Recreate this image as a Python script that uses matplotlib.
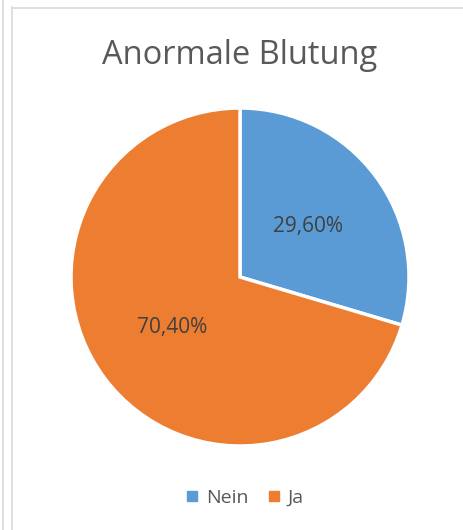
import matplotlib
matplotlib.use("Agg")
import matplotlib.pyplot as plt
from matplotlib.lines import Line2D

title = "Anormale Blutung"
categories = ["Nein", "Ja"]
values = [29.60, 70.40]
colors = ["#5B9BD5", "#ED7D31"]

plt.rcParams['font.family'] = ['Open Sans', 'DejaVu Sans']

W, H = 464, 530
fig = plt.figure(figsize=(W / 100, H / 100), dpi=100)
fig.patch.set_facecolor("white")

# frame lines
fig.add_artist(Line2D([2.5 / W, 2.5 / W], [0, 1], color="#D9D9D9", lw=1.2))
fig.add_artist(Line2D([12.5 / W, 12.5 / W], [0, 1 - 7 / H], color="#D9D9D9", lw=1.2))
fig.add_artist(Line2D([12.5 / W, 1], [1 - 7.5 / H, 1 - 7.5 / H], color="#D9D9D9", lw=1.2))

cx, cy, r = 240, 277, 169
ax = fig.add_axes([(cx - r) / W, (H - cy - r) / H, 2 * r / W, 2 * r / H])
wedges, texts, autotexts = ax.pie(
    values, colors=colors, startangle=90, counterclock=False,
    autopct=lambda p: f"{p:.2f}%".replace(".", ","), pctdistance=0.5,
    wedgeprops=dict(edgecolor="white", linewidth=2.5),
    textprops=dict(color="#404040", fontsize=15),
)
ax.set_xlim(-1, 1)
ax.set_ylim(-1, 1)
ax.set_aspect("equal")
ax.axis("off")

fig.text(cx / W, 1 - 55 / H, title, ha="center", va="center",
         fontsize=23.5, color="#595959")

handles = [Line2D([], [], marker="s", linestyle="none", markersize=7,
                  markerfacecolor=c, markeredgecolor=c) for c in colors]
fig.legend(handles, categories, loc="center", bbox_to_anchor=(245 / W, 1 - 498 / H),
           ncol=2, frameon=False, fontsize=14, labelcolor="#595959",
           handlelength=0.6, handletextpad=0.4, columnspacing=1.0)

fig.savefig("out.png", dpi=100)
